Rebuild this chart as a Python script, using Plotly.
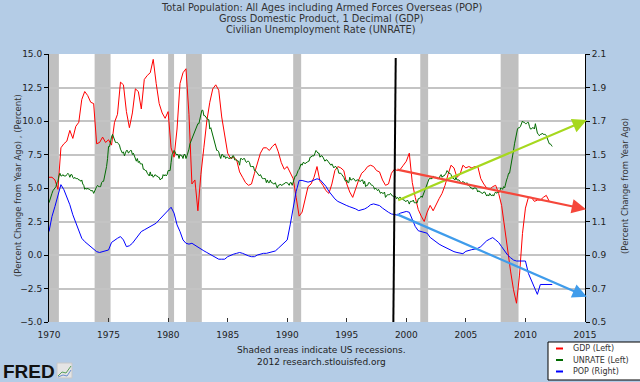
import plotly.graph_objects as go

# ---------------- data ----------------
gdp_start = 1970.0  # quarterly, % change from year ago
gdp = [
    5.8, 5.8, 5.6, 4.9,   8.0, 8.3, 8.5, 9.3,   8.7, 9.6, 9.9, 11.6,
    12.2, 11.9, 11.4, 11.3,   8.3, 8.4, 8.8, 8.4,   8.6, 8.2, 9.9, 10.5,
    12.9, 12.7, 10.7, 9.5,   10.6, 12.4, 12.2, 10.9,   13.1, 13.4, 13.6, 14.6,
    12.8, 11.3, 10.6, 10.2,   10.7, 8.0, 7.3, 9.4,   12.8, 13.6, 13.9, 10.5,
    5.3, 5.6, 3.3, 6.0,   8.0, 10.0, 11.4, 12.4,   12.7, 12.3, 10.3, 9.0,
    7.6, 7.2, 7.3, 7.1,   6.2, 5.8, 5.4, 5.2,   5.3, 6.1, 6.8, 7.6,
    8.0, 8.0, 7.8, 8.1,   8.3, 7.7, 6.9, 6.4,   6.6, 6.2, 5.7, 4.3,
    2.9, 3.2, 4.1, 5.1,   5.3, 5.8, 6.6, 5.5,   5.2, 4.8, 4.6, 5.3,
    6.3, 6.6, 6.5, 6.3,   5.3, 4.7, 4.3, 5.0,   5.6, 6.1, 6.3, 6.6,
    6.7, 6.6, 6.3, 6.2,   5.6, 5.2, 5.3, 6.1,   6.4, 6.3, 6.4, 6.7,
    7.0, 7.6, 5.4, 4.3,   3.4, 2.9, 2.5, 3.2,   3.7, 3.3, 3.8, 4.2,
    4.6, 5.2, 6.0, 6.7,   6.5, 5.8, 6.0, 6.7,   6.5, 6.6, 6.5, 6.6,
    6.6, 5.7, 5.3, 5.0,   4.9, 5.1, 5.2, 4.6,   3.7, 2.0, 0.3, -1.2,
    -2.6, -3.6, -1.5, 1.6,   3.5, 4.3, 4.3, 4.0,   4.1, 4.1, 4.3, 4.45,
    4.0,
]

unrate_start = 1970.0  # monthly, percent
unrate = [
    3.9, 4.2, 4.4, 4.6, 4.8, 4.9, 5.0, 5.1, 5.4, 5.5, 5.9, 6.1,
    5.9, 5.9, 6.0, 5.9, 5.9, 5.9, 6.0, 6.1, 6.0, 5.8, 6.0, 6.0,
    5.8, 5.7, 5.8, 5.7, 5.7, 5.7, 5.6, 5.6, 5.5, 5.6, 5.3, 5.2,
    4.9, 5.0, 4.9, 5.0, 4.9, 4.9, 4.8, 4.8, 4.8, 4.6, 4.8, 4.9,
    5.1, 5.2, 5.1, 5.1, 5.1, 5.4, 5.5, 5.5, 5.9, 6.0, 6.6, 7.2,
    8.1, 8.1, 8.6, 8.8, 9.0, 8.8, 8.6, 8.4, 8.4, 8.4, 8.3, 8.2,
    7.9, 7.7, 7.6, 7.7, 7.4, 7.6, 7.8, 7.8, 7.6, 7.7, 7.8, 7.8,
    7.5, 7.6, 7.4, 7.2, 7.0, 7.2, 6.9, 7.0, 6.8, 6.8, 6.8, 6.4,
    6.4, 6.3, 6.3, 6.1, 6.0, 5.9, 6.2, 5.9, 6.0, 5.8, 5.9, 6.0,
    5.9, 5.9, 5.8, 5.8, 5.6, 5.7, 5.7, 6.0, 5.9, 6.0, 5.9, 6.0,
    6.3, 6.3, 6.3, 6.9, 7.5, 7.6, 7.8, 7.7, 7.5, 7.5, 7.5, 7.2,
    7.5, 7.4, 7.4, 7.2, 7.5, 7.5, 7.2, 7.4, 7.6, 7.9, 8.3, 8.5,
    8.6, 8.9, 9.0, 9.3, 9.4, 9.6, 9.8, 9.8, 10.1, 10.4, 10.8, 10.8,
    10.4, 10.4, 10.3, 10.2, 10.1, 10.1, 9.4, 9.5, 9.2, 8.8, 8.5, 8.3,
    8.0, 7.8, 7.8, 7.7, 7.4, 7.2, 7.5, 7.5, 7.3, 7.4, 7.2, 7.3,
    7.3, 7.2, 7.2, 7.3, 7.2, 7.4, 7.4, 7.1, 7.1, 7.1, 7.0, 7.0,
    6.7, 7.2, 7.2, 7.1, 7.2, 7.2, 7.0, 6.9, 7.0, 7.0, 6.9, 6.6,
    6.6, 6.6, 6.6, 6.3, 6.3, 6.2, 6.1, 6.0, 5.9, 6.0, 5.8, 5.7,
    5.7, 5.7, 5.7, 5.4, 5.6, 5.4, 5.4, 5.6, 5.4, 5.4, 5.3, 5.3,
    5.4, 5.2, 5.0, 5.2, 5.2, 5.3, 5.2, 5.2, 5.3, 5.3, 5.4, 5.4,
    5.4, 5.3, 5.2, 5.4, 5.4, 5.2, 5.5, 5.7, 5.9, 5.9, 6.2, 6.3,
    6.4, 6.6, 6.8, 6.7, 6.9, 6.9, 6.8, 6.9, 6.9, 7.0, 7.0, 7.3,
    7.3, 7.4, 7.4, 7.4, 7.6, 7.8, 7.7, 7.6, 7.6, 7.3, 7.4, 7.4,
    7.3, 7.1, 7.0, 7.1, 7.1, 7.0, 6.9, 6.8, 6.7, 6.8, 6.6, 6.5,
    6.6, 6.6, 6.5, 6.4, 6.1, 6.1, 6.1, 6.0, 5.9, 5.8, 5.6, 5.5,
    5.6, 5.4, 5.4, 5.8, 5.6, 5.6, 5.7, 5.7, 5.6, 5.5, 5.6, 5.6,
    5.6, 5.5, 5.5, 5.6, 5.6, 5.3, 5.5, 5.1, 5.2, 5.2, 5.4, 5.4,
    5.3, 5.2, 5.2, 5.1, 4.9, 5.0, 4.9, 4.8, 4.9, 4.7, 4.6, 4.7,
    4.6, 4.6, 4.7, 4.3, 4.4, 4.5, 4.5, 4.5, 4.6, 4.5, 4.4, 4.4,
    4.3, 4.4, 4.2, 4.3, 4.2, 4.3, 4.3, 4.2, 4.2, 4.1, 4.1, 4.0,
    4.0, 4.1, 4.0, 3.8, 4.0, 4.0, 4.0, 4.1, 3.9, 3.9, 3.9, 3.9,
    4.2, 4.2, 4.3, 4.4, 4.3, 4.5, 4.6, 4.9, 5.0, 5.3, 5.5, 5.7,
    5.7, 5.7, 5.7, 5.9, 5.8, 5.8, 5.8, 5.7, 5.7, 5.7, 5.9, 6.0,
    5.8, 5.9, 5.9, 6.0, 6.1, 6.3, 6.2, 6.1, 6.1, 6.0, 5.8, 5.7,
    5.7, 5.6, 5.8, 5.6, 5.6, 5.6, 5.5, 5.4, 5.4, 5.5, 5.4, 5.4,
    5.3, 5.4, 5.2, 5.2, 5.1, 5.0, 5.0, 4.9, 5.0, 5.0, 5.0, 4.9,
    4.7, 4.8, 4.7, 4.7, 4.6, 4.6, 4.7, 4.7, 4.5, 4.4, 4.5, 4.4,
    4.6, 4.5, 4.4, 4.5, 4.4, 4.6, 4.7, 4.6, 4.7, 4.7, 4.7, 5.0,
    5.0, 4.9, 5.1, 5.0, 5.4, 5.6, 5.8, 6.1, 6.1, 6.5, 6.8, 7.3,
    7.8, 8.3, 8.7, 9.0, 9.4, 9.5, 9.5, 9.6, 9.8, 10.0, 9.9, 9.9,
    9.8, 9.8, 9.9, 9.9, 9.6, 9.4, 9.4, 9.5, 9.5, 9.4, 9.8, 9.3,
    9.1, 9.0, 8.9, 9.0, 9.0, 9.1, 9.0, 9.0, 9.0, 8.9, 8.6, 8.5,
    8.3, 8.3, 8.2, 8.1,
]

pop_start = 1970.0  # quarterly, % change from year ago (right axis)
pop = [
    1.04, 1.13, 1.19, 1.25,   1.32, 1.29, 1.25, 1.20,   1.14, 1.09, 1.05, 1.00,
    0.98, 0.965, 0.95, 0.935,   0.92, 0.915, 0.92, 0.925,   0.93, 0.975, 0.99, 1.00,
    1.01, 0.99, 0.95, 0.955,   0.97, 0.995, 1.02, 1.04,   1.05, 1.06, 1.07, 1.08,
    1.09, 1.11, 1.13, 1.15,   1.17, 1.185, 1.15, 1.08,   1.04, 0.99, 0.97, 0.965,
    0.97, 0.96, 0.945, 0.935,   0.925, 0.915, 0.905, 0.895,   0.89, 0.875, 0.875, 0.875,
    0.89, 0.90, 0.905, 0.91,   0.915, 0.91, 0.90, 0.895,   0.89, 0.89, 0.90, 0.905,
    0.91, 0.91, 0.914, 0.918,   0.924, 0.94, 0.955, 0.97,   0.99, 1.08, 1.18, 1.28,
    1.345, 1.345, 1.34, 1.335,   1.34, 1.35, 1.355, 1.35,   1.33, 1.31, 1.28, 1.255,
    1.235, 1.22, 1.21, 1.20,   1.195, 1.188, 1.182, 1.175,   1.165, 1.168, 1.175, 1.185,
    1.20, 1.205, 1.20, 1.195,   1.18, 1.165, 1.155, 1.145,   1.14, 1.138, 1.15, 1.155,
    1.16, 1.155, 1.11, 1.07,   1.045, 1.04, 1.035, 1.03,   1.005, 0.99, 0.975, 0.965,
    0.955, 0.945, 0.935, 0.925,   0.92, 0.915, 0.91, 0.908,   0.922, 0.928, 0.932, 0.935,
    0.94, 0.95, 0.97, 0.985,   0.995, 1.004, 0.99, 0.975,   0.95, 0.925, 0.90, 0.884,
    0.87, 0.864, 0.864, 0.864,   0.864, 0.79, 0.745, 0.70,   0.665, 0.724, 0.724, 0.724,
    0.724, 0.724,
]

recessions = [
    (1969.92, 1970.83), (1973.83, 1975.17), (1980.0, 1980.5),
    (1981.5, 1982.83), (1990.5, 1991.17), (2001.17, 2001.83), (2007.92, 2009.42),
]

# hand-drawn annotations (left-axis coordinates)
marker_line = ((1999.11, 14.7), (1998.91, -5.0))
arrows = [  # (tail, tip, colour)
    ((1999.19, 4.03), (2015.15, 10.07), "#a6d81e"),
    ((1999.11, 6.40), (2015.09, 3.41), "#f5473b"),
    ((1999.11, 3.08), (2015.15, -3.11), "#3f9ceb"),
]

title_lines = [
    "Total Population: All Ages including Armed Forces Overseas (POP)",
    "Gross Domestic Product, 1 Decimal (GDP)",
    "Civilian Unemployment Rate (UNRATE)",
]
legend_items = [("GDP (Left)", "#ff0000"), ("UNRATE (Left)", "#006a00"), ("POP (Right)", "#0000ff")]
year_ticks = list(range(1970, 2016, 5))

# ---------------- figure ----------------
W, H = 640, 382
L, R, T, B = 49, 55, 54, 60


def px(X):
    return (X - L) / (W - L - R)


def py(Y):
    return (H - B - Y) / (H - T - B)


FONT = "DejaVu Sans"
BG = "#b4cce6"

fig = go.Figure()
fig.add_trace(go.Scatter(
    x=[gdp_start + i / 4 for i in range(len(gdp))], y=gdp, mode="lines",
    line=dict(color="#ff0000", width=1), name="GDP (Left)", showlegend=False))
fig.add_trace(go.Scatter(
    x=[unrate_start + i / 12 for i in range(len(unrate))], y=unrate, mode="lines",
    line=dict(color="#006a00", width=1), name="UNRATE (Left)", showlegend=False))
fig.add_trace(go.Scatter(
    x=[pop_start + i / 4 for i in range(len(pop))], y=pop, mode="lines", yaxis="y2",
    line=dict(color="#0000ff", width=1), name="POP (Right)", showlegend=False))

shapes = []
for a, b in recessions:
    shapes.append(dict(type="rect", xref="x", yref="paper", x0=max(a, 1970), x1=b, y0=0, y1=1,
                       fillcolor="#c0c0c0", line=dict(width=0), layer="below"))
(mx0, my0), (mx1, my1) = marker_line
shapes.append(dict(type="line", xref="x", yref="y", x0=mx0, y0=my0, x1=mx1, y1=my1,
                   line=dict(color="#000000", width=2), layer="above"))

annotations = []
for (tx, ty), (hx, hy), col in arrows:
    annotations.append(dict(x=hx, y=hy, ax=tx, ay=ty, xref="x", yref="y", axref="x", ayref="y",
                            text="", showarrow=True, arrowhead=2, arrowsize=1.3, arrowwidth=2.2,
                            arrowcolor=col, standoff=0, startstandoff=0))

for i, t in enumerate(title_lines):
    annotations.append(dict(x=px(321), y=py(7 + 11.5 * i), xref="paper", yref="paper", text=t,
                            showarrow=False, xanchor="center", yanchor="middle",
                            font=dict(family=FONT, size=9.8, color="#333333")))

annotations.append(dict(x=px(11), y=py(186), xref="paper", yref="paper", textangle=-90,
                        text="(Percent Change from Year Ago) , (Percent)", showarrow=False,
                        font=dict(family=FONT, size=8.5, color="#333333")))
annotations.append(dict(x=px(632), y=py(186), xref="paper", yref="paper", textangle=-90,
                        text="(Percent Change from Year Ago)", showarrow=False,
                        font=dict(family=FONT, size=8.5, color="#333333")))

annotations.append(dict(x=px(321), y=py(357), xref="paper", yref="paper",
                        text="Shaded areas indicate US recessions.", showarrow=False,
                        font=dict(family=FONT, size=9, color="#222222")))
annotations.append(dict(x=px(321), y=py(369), xref="paper", yref="paper",
                        text="2012 research.stlouisfed.org", showarrow=False,
                        font=dict(family=FONT, size=9, color="#222222")))

# legend box
shapes.append(dict(type="rect", xref="paper", yref="paper", x0=px(548), x1=px(646),
                   y0=py(380), y1=py(342), fillcolor="#ffffff", line=dict(color="#000000", width=1)))
for i, (lab, col) in enumerate(legend_items):
    yy = 348.5 + 11.5 * i
    shapes.append(dict(type="line", xref="paper", yref="paper", x0=px(556), x1=px(563),
                       y0=py(yy), y1=py(yy), line=dict(color=col, width=2)))
    annotations.append(dict(x=px(571), y=py(yy), xref="paper", yref="paper", text=lab,
                            showarrow=False, xanchor="left", yanchor="middle",
                            font=dict(family=FONT, size=8, color="#333333")))

# FRED logo
annotations.append(dict(x=px(1), y=py(371), xref="paper", yref="paper", text="<b>FRED</b>",
                        showarrow=False, xanchor="left", yanchor="middle",
                        font=dict(family="Liberation Sans", size=19, color="#111111")))
shapes.append(dict(type="rect", xref="paper", yref="paper", x0=px(57), x1=px(72),
                   y0=py(378), y1=py(363), fillcolor="#e4e4e4", line=dict(color="#c8c8c8", width=1)))
shapes.append(dict(type="path", xref="paper", yref="paper",
                   path="M {} {} L {} {} L {} {} L {} {}".format(px(58), py(376), px(62), py(372),
                                                               px(66), py(373), px(71), py(366)),
                   line=dict(color="#5aa05a", width=1)))
shapes.append(dict(type="path", xref="paper", yref="paper",
                   path="M {} {} L {} {} L {} {} L {} {}".format(px(58), py(377), px(63), py(375),
                                                               px(67), py(376), px(71), py(370)),
                   line=dict(color="#6a8fd0", width=1)))

fig.update_layout(
    width=W, height=H,
    margin=dict(l=L, r=R, t=T, b=B),
    paper_bgcolor=BG, plot_bgcolor="#ffffff",
    showlegend=False,
    font=dict(family=FONT, size=9, color="#222222"),
    shapes=shapes, annotations=annotations,
    xaxis=dict(range=[1970, 2015], tickvals=year_ticks, ticktext=[str(v) for v in year_ticks],
               ticks="inside", ticklen=4, tickcolor="#333333", showgrid=False, zeroline=False,
               showline=False, ticklabelstandoff=6,
               tickfont=dict(family=FONT, size=9, color="#222222")),
    yaxis=dict(range=[-5, 15], tick0=-5, dtick=2.5, tickformat=".1f", ticks="outside", ticklen=4,
               tickcolor="#000000", showline=True, linecolor="#000000", linewidth=1,
               gridcolor="#c4c4c4", gridwidth=1.5, zeroline=False,
               tickfont=dict(family=FONT, size=9, color="#222222")),
    yaxis2=dict(range=[0.5, 2.1], tick0=0.5, dtick=0.2, tickformat=".1f", overlaying="y",
                side="right", ticks="outside", ticklen=4, tickcolor="#000000", showline=True,
                linecolor="#000000", linewidth=1, showgrid=False, zeroline=False,
                tickfont=dict(family=FONT, size=9, color="#222222")),
)

fig.write_html("out.html", config={"displayModeBar": False},
               post_script="document.body.style.margin='0';document.body.style.overflow='hidden';")
